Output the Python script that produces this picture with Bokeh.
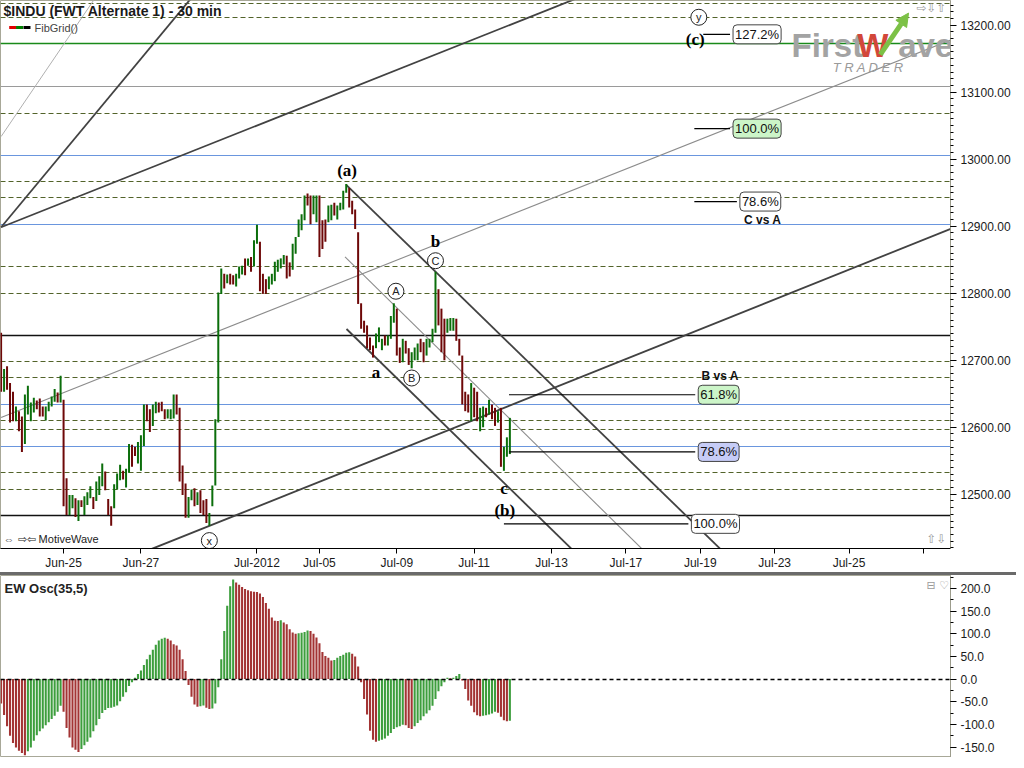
from bokeh.plotting import figure
from bokeh.models import (Range1d, FixedTicker, NumeralTickFormatter, Label, Arrow,
                          NormalHead, Div)
from bokeh.layouts import column
from bokeh.embed import file_html
from bokeh.resources import INLINE
from bokeh.core.properties import value

# ------------------------------------------------------------------ data
# 30-minute bars of $INDU (high / low), index = bar number
highs = [12741, 12687, 12691, 12666, 12653, 12631, 12624, 12616, 12649, 12662,
         12637, 12644, 12640, 12643, 12631, 12631, 12638, 12646, 12657, 12652,
         12677, 12641, 12524, 12499, 12499, 12494, 12491, 12491, 12497, 12503,
         12512, 12496, 12519, 12527, 12546, 12534, 12493, 12482, 12515, 12531,
         12544, 12535, 12538, 12575, 12574, 12571, 12578, 12588, 12634, 12634,
         12627, 12634, 12638, 12637, 12638, 12627, 12627, 12627, 12649, 12649,
         12629, 12543, 12516, 12496, 12507, 12509, 12503, 12506, 12491, 12493,
         12472, 12513, 12612, 12801, 12837, 12829, 12828, 12829, 12827, 12829,
         12840, 12841, 12852, 12852, 12854, 12879, 12902, 12877, 12829, 12821,
         12825, 12829, 12847, 12850, 12852, 12857, 12856, 12846, 12874, 12884,
         12910, 12918, 12946, 12949, 12946, 12946, 12946, 12946, 12909, 12910,
         12931, 12932, 12935, 12931, 12935, 12953, 12963, 12957, 12938, 12925,
         12891, 12785, 12759, 12752, 12734, 12722, 12740, 12749, 12732, 12737,
         12737, 12766, 12785, 12777, 12719, 12732, 12729, 12718, 12712, 12719,
         12725, 12732, 12727, 12732, 12732, 12747, 12832, 12806, 12777, 12762,
         12762, 12763, 12763, 12762, 12732, 12707, 12653, 12649, 12666, 12659,
         12653, 12629, 12631, 12629, 12641, 12634, 12629, 12624, 12629, 12571,
         12585, 12614]
lows = [12653, 12653, 12656, 12607, 12609, 12609, 12594, 12563, 12575, 12619,
        12609, 12622, 12627, 12616, 12616, 12610, 12624, 12631, 12638, 12637,
        12637, 12482, 12469, 12469, 12479, 12466, 12460, 12481, 12469, 12484,
        12494, 12478, 12490, 12499, 12512, 12506, 12469, 12453, 12479, 12507,
        12521, 12522, 12510, 12532, 12541, 12557, 12546, 12535, 12572, 12609,
        12593, 12602, 12621, 12622, 12624, 12612, 12613, 12612, 12613, 12619,
        12519, 12499, 12465, 12465, 12491, 12482, 12484, 12472, 12469, 12457,
        12453, 12482, 12513, 12607, 12799, 12807, 12815, 12813, 12813, 12810,
        12822, 12828, 12827, 12841, 12832, 12840, 12874, 12803, 12799, 12799,
        12806, 12813, 12818, 12832, 12837, 12843, 12822, 12825, 12835, 12859,
        12884, 12894, 12909, 12931, 12903, 12918, 12906, 12854, 12866, 12877,
        12906, 12909, 12916, 12910, 12924, 12925, 12950, 12928, 12918, 12896,
        12784, 12747, 12741, 12718, 12715, 12704, 12718, 12727, 12715, 12722,
        12722, 12732, 12756, 12707, 12696, 12697, 12710, 12693, 12688, 12700,
        12700, 12712, 12697, 12707, 12719, 12727, 12741, 12752, 12712, 12700,
        12741, 12744, 12744, 12729, 12707, 12634, 12624, 12622, 12609, 12615,
        12609, 12594, 12600, 12615, 12619, 12612, 12602, 12607, 12541, 12535,
        12556, 12560]
# g = up bar, r = down bar
bar_dir = list("rgrrrgrrgg" "ggrrrggggr" "grrggrgrgg" "grgggrrrgg" "grggrrgggr"
               "rggrrrgggr" "rrrggrgrrr" "gggggrgrrg" "ggrgrggrrr" "ggggggrrgg"
               "gggrrggrrr" "ggrggggrrr" "rrrrrrgggr" "gggrrgrrgg" "grrggggrrr"
               "gggrrrrrgr" "rggrgrrgrg" "gg")
# EW Oscillator (35,5)
osc = [-54, -79, -104, -125, -141, -151, -158, -163, -168, -159,
       -151, -136, -124, -115, -109, -102, -95, -88, -81, -72,
       -59, -72, -108, -129, -151, -156, -161, -154, -146, -138,
       -129, -115, -102, -88, -75, -68, -64, -63, -61, -58,
       -49, -39, -29, -15, -7, 3, 11, 19, 31, 44,
       54, 65, 76, 85, 89, 91, 89, 85, 77, 74,
       65, 44, 18, -13, -39, -56, -61, -60, -58, -63,
       -66, -65, -54, -18, 44, 106, 162, 205, 220, 213,
       208, 203, 199, 196, 194, 193, 192, 189, 181, 168,
       155, 136, 129, 128, 130, 125, 121, 110, 103, 100,
       101, 102, 104, 107, 106, 100, 92, 79, 60, 51,
       47, 41, 42, 47, 51, 54, 58, 59, 56, 50,
       28, -7, -44, -78, -114, -134, -138, -136, -134, -131,
       -125, -119, -110, -106, -104, -101, -102, -108, -110, -104,
       -97, -91, -82, -76, -69, -59, -44, -27, -16, -7,
       3, 2, 3, 7, 11, -3, -22, -47, -59, -73,
       -80, -82, -81, -80, -78, -76, -72, -74, -83, -91,
       -93, -91.9]

tick_bars = [21, 47, 86, 107, 133, 159, 185, 210, 235, 260, 285, 310]
tick_labels = ["Jun-25", "Jun-27", "Jul-2012", "Jul-05", "Jul-09", "Jul-11",
               "Jul-13", "Jul-17", "Jul-19", "Jul-23", "Jul-25", ""]

# FibGrid horizontal levels
fib_dashed = [13232, 13212, 13068, 12966, 12943, 12840, 12800, 12698, 12674,
              12610, 12596, 12532, 12507]
blue_levels = [13006, 12903, 12634, 12571]
black_levels = [12737, 12468]
green_levels = [13172]
gray_levels = [13109]

# trend / channel lines: (bar0, price0, bar1, price1)
thick_lines = [(0, 12898.5, 200, 13251.5),
               (0, 12898.5, 66.0, 13251.5),
               (50, 12417.3, 320, 12897.5),
               (116, 12961.8, 246.7, 12397.0),
               (116.1, 12746.6, 196.7, 12397.0)]
thin_lines = [(0, 12614.7, 320, 13179.4),
              (115.6, 12854.4, 220, 12398.5)]
light_lines = [(0, 13033.8, 33.3, 13251.5)]

# Fibonacci projections: start bar, end bar, price, text, box colour
proj_start = [236, 233, 233, 170.7, 170.7, 169]
proj_end = [245, 245, 247.3, 233.3, 233.3, 231]
proj_price = [13186.3, 13045.6, 12936.8, 12648.5, 12563.2, 12455.9]
proj_text = ["127.2%", "100.0%", "78.6%", "61.8%", "78.6%", "100.0%"]
proj_fill = ["#ffffff", "#ccf5c8", "#ffffff", "#ccf5c8", "#c6ccf7", "#ffffff"]

# wave labels
wave_x = [116.3, 146, 126, 169, 169.3, 233.3]
wave_y = [12983.8, 12876.5, 12681, 12508.0, 12476.0, 13178]
wave_t = ["(a)", "b", "a", "c", "(b)", "(c)"]
circ_x = [146, 132.7, 138, 70, 234.5]
circ_y = [12848.5, 12803, 12673.5, 12430.9, 13211.8]
circ_t = ["C", "A", "B", "x", "y"]

price_tags = [12661.97, 12604.53, 12534.33]
price_tag_fill = ["#cbe7f5", "#ffffff", "#f6caca"]
osc_last = -91.9

# ------------------------------------------------------------------ style
SANS = "Liberation Sans"
SERIF = "Liberation Serif"
X0, X1 = -0.2, 319.1
Y0, Y1 = 12419.1, 13236.8
O0, O1 = -173.0, 228.6
xr = Range1d(X0, X1)

n = len(highs)
idx = list(range(n))
bar_colors = ["#0b6e0b" if d == "g" else "#6e0808" for d in bar_dir]
osc_colors = ["#3d9e3d" if (i > 0 and osc[i] > osc[i - 1]) else "#a33434" for i in range(n)]

main = figure(frame_width=950, frame_height=548, x_range=xr, y_range=Range1d(Y0, Y1),
              output_backend="svg", toolbar_location=None, y_axis_location="right",
              min_border_left=0, min_border_top=0, min_border_right=66, min_border_bottom=0,
              outline_line_color="#a8a898", background_fill_color="white",
              border_fill_color="white")
main.grid.visible = False

# grid levels
main.hspan(y=fib_dashed, line_color="#52632a", line_dash="5 3", line_width=1)
main.hspan(y=gray_levels, line_color="#9a9a9a", line_width=1)
main.hspan(y=blue_levels, line_color="#6a96de", line_width=1.2)
main.hspan(y=black_levels, line_color="#111111", line_width=1.3)
main.hspan(y=green_levels, line_color="#1a8a1a", line_width=1.6)

# trend lines
def seg(lines, color, width):
    main.segment(x0=[l[0] for l in lines], y0=[l[1] for l in lines],
                 x1=[l[2] for l in lines], y1=[l[3] for l in lines],
                 line_color=color, line_width=width)

seg(light_lines, "#b0b0b0", 1)
seg(thin_lines, "#8c8c8c", 1.1)
seg(thick_lines, "#424242", 1.8)

# price bars
main.segment(x0=idx, y0=lows, x1=idx, y1=highs, line_color=bar_colors, line_width=2)

# fib projection lines + boxes
main.segment(x0=proj_start, y0=proj_price, x1=proj_end, y1=proj_price,
             line_color="black", line_width=1.2)
for xe, yp, t, f in zip(proj_end, proj_price, proj_text, proj_fill):
    main.add_layout(Label(x=xe, y=yp, x_offset=3, text=t, text_align="left",
                          text_baseline="middle", text_font=SANS, text_font_size="13px",
                          text_color="#111111", background_fill_color=f,
                          border_line_color="#444444", border_line_width=1,
                          padding=2, border_radius=4))
main.add_layout(Label(x=256, y=12908.8, text="C vs A", text_align="center",
                      text_baseline="middle", text_font=SANS, text_font_size="12px",
                      text_font_style="bold", text_color="#111111"))
main.add_layout(Label(x=241.7, y=12676.5, text="B vs A", text_align="center",
                      text_baseline="middle", text_font=SANS, text_font_size="12px",
                      text_font_style="bold", text_color="#111111"))

# wave labels
main.text(x=wave_x, y=wave_y, text=wave_t, text_align="center", text_baseline="middle",
          text_font=value(SERIF), text_font_style="bold", text_font_size="17px",
          text_color="#000000")
main.scatter(x=circ_x, y=circ_y, size=16, fill_color="white", line_color="#222222",
             line_width=1)
main.text(x=circ_x, y=circ_y, text=circ_t, text_align="center", text_baseline="middle",
          text_font=value(SANS), text_font_size="11px", text_color="#222222")

# title / legend
main.add_layout(Label(x=X0, y=Y1, x_offset=3, y_offset=-10, text="$INDU (FWT Alternate 1) - 30 min",
                      text_baseline="middle", text_font=SANS, text_font_size="14px",
                      text_font_style="bold", text_color="#1a1a1a"))
icon_x = [3.9, 6.2, 8.7]
icon_c = ["#e00000", "#008000", "#000000"]
main.rect(x=icon_x, y=[13196.5] * 3, width=7, height=3, width_units="screen",
          height_units="screen", fill_color=icon_c, line_color=None)
main.add_layout(Label(x=X0, y=Y1, x_offset=34, y_offset=-27, text="FibGrid()",
                      text_baseline="middle", text_font=SANS, text_font_size="11px",
                      text_color="#444444"))
main.add_layout(Label(x=X0, y=Y0, x_offset=3, y_offset=10, text="⇔ ⇨⇦ MotiveWave",
                      text_baseline="middle", text_font=SANS, text_font_size="11px",
                      text_color="#222222"))
main.add_layout(Label(x=X1, y=Y1, x_offset=-34, y_offset=-7, text="⇨⇩⇧",
                      text_baseline="middle", text_font="DejaVu Sans", text_font_size="12px",
                      text_color="#9a9a9a"))
main.add_layout(Label(x=X1, y=Y0, x_offset=-24, y_offset=10, text="⇧⇩",
                      text_baseline="middle", text_font="DejaVu Sans", text_font_size="12px",
                      text_color="#9a9a9a"))

# logo
main.add_layout(Label(x=265.7, y=13170, text="First", text_baseline="middle",
                      text_font=SANS, text_font_size="33px", text_font_style="bold",
                      text_color="#a3a3a3"))
main.add_layout(Label(x=287.8, y=13170, text="W", text_baseline="middle",
                      text_font=SANS, text_font_size="33px", text_font_style="bold",
                      text_color="#d2473a"))
main.add_layout(Label(x=301.5, y=13170, text="ave", text_baseline="middle",
                      text_font=SANS, text_font_size="33px", text_font_style="bold",
                      text_color="#a3a3a3"))
main.add_layout(Label(x=279.5, y=13137, text="T R A D E R", text_baseline="middle",
                      text_font=SANS, text_font_size="13px", text_font_style="italic",
                      text_color="#9a9a9a"))
main.add_layout(Arrow(end=NormalHead(size=13, fill_color="#7cc146", line_color="#7cc146"),
                      x_start=295.5, y_start=13156, x_end=305.0, y_end=13218,
                      line_color="#7cc146", line_width=5))

# right axis price tags
for pv, f in zip(price_tags, price_tag_fill):
    main.add_layout(Label(x=X1, y=pv, x_offset=9, text=f"{pv:.2f}", text_align="left",
                          text_baseline="middle", text_font=SANS, text_font_size="12px",
                          text_color="#111111", background_fill_color=f,
                          border_line_color="#555555", padding=2, border_radius=2))

# axes
yax = main.yaxis[0]
yax.ticker = FixedTicker(ticks=list(range(12500, 13201, 100)),
                         minor_ticks=list(range(12420, 13240, 10)))
yax.formatter = NumeralTickFormatter(format="0.00")
yax.axis_line_color = "#9c9c8c"
yax.major_tick_in = 0
yax.major_tick_out = 6
yax.minor_tick_in = 0
yax.minor_tick_out = 3
yax.major_label_text_font = SANS
yax.major_label_text_font_size = "12px"
yax.major_label_text_color = "#1a1a1a"
yax.major_label_standoff = 4

xax = main.xaxis[0]
xax.ticker = FixedTicker(ticks=tick_bars, minor_ticks=[])
xax.major_label_overrides = {t: l for t, l in zip(tick_bars, tick_labels)}
xax.axis_line_color = "black"
xax.major_tick_in = 0
xax.major_tick_out = 5
xax.major_label_text_font = SANS
xax.major_label_text_font_size = "12px"
xax.major_label_text_color = "#1a1a1a"
xax.major_label_standoff = 2

# ------------------------------------------------------------------ oscillator
sep = Div(text="", width=1016, height=3, margin=(0, 0, 0, 0),
          styles={"background-color": "#6a6a6a"})

op = figure(frame_width=950, frame_height=182, x_range=xr, y_range=Range1d(O0, O1),
            output_backend="svg", toolbar_location=None, y_axis_location="right",
            x_axis_location=None, min_border_left=0, min_border_top=0,
            min_border_right=66, min_border_bottom=0, outline_line_color="#a8a898")
op.grid.visible = False
op.vbar(x=idx, bottom=0, top=osc, width=0.7, fill_color=osc_colors, line_color=None)
op.hspan(y=[0], line_color="black", line_dash="4 3", line_width=1.3)
op.add_layout(Label(x=X0, y=O1, x_offset=4, y_offset=-13, text="EW Osc(35,5)",
                    text_baseline="middle", text_font=SANS, text_font_size="13px",
                    text_font_style="bold", text_color="#222222"))
op.add_layout(Label(x=X1, y=O1, x_offset=-24, y_offset=-10, text="⊟ ♡",
                    text_baseline="middle", text_font="DejaVu Sans", text_font_size="11px",
                    text_color="#9a9a9a"))
op.add_layout(Label(x=X1, y=osc_last, x_offset=9, text=f"{osc_last:.1f}", text_align="left",
                    text_baseline="middle", text_font=SANS, text_font_size="12px",
                    text_color="#111111", background_fill_color="white",
                    border_line_color="#555555", padding=2, border_radius=2))
oax = op.yaxis[0]
oax.ticker = FixedTicker(ticks=list(range(-150, 201, 50)),
                         minor_ticks=list(range(-175, 226, 25)))
oax.formatter = NumeralTickFormatter(format="0.0")
oax.axis_line_color = "#9c9c8c"
oax.major_tick_in = 0
oax.major_tick_out = 6
oax.minor_tick_in = 0
oax.minor_tick_out = 3
oax.major_label_text_font = SANS
oax.major_label_text_font_size = "12px"
oax.major_label_text_color = "#1a1a1a"
oax.major_label_standoff = 4

layout = column(main, sep, op, spacing=0)
open("out.html", "w").write(file_html(layout, INLINE))
